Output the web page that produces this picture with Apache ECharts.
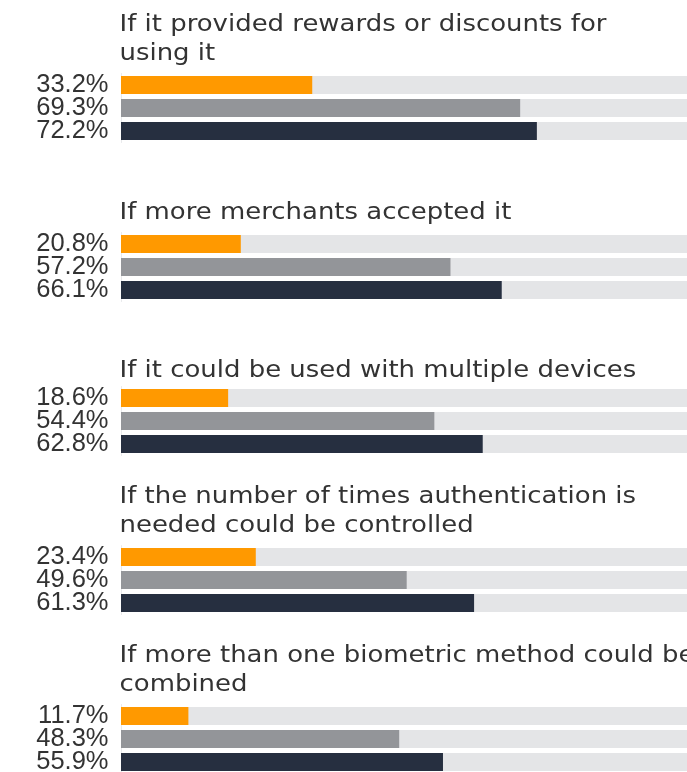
<!DOCTYPE html>
<html>
<head>
<meta charset="utf-8">
<script src="https://cdn.jsdelivr.net/npm/echarts@6/dist/echarts.min.js"></script>
<style>
html,body{margin:0;padding:0;background:#fff;}
#chart{width:687px;height:772px;}
</style>
</head>
<body>
<div id="chart"></div>
<script>
const categories = [
  "If it provided rewards or discounts for\nusing it",
  "If more merchants accepted it",
  "If it could be used with multiple devices",
  "If the number of times authentication is\nneeded could be controlled",
  "If more than one biometric method could be\ncombined"
];
const seriesOrange = [33.2, 20.8, 18.6, 23.4, 11.7];
const seriesGray = [69.3, 57.2, 54.4, 49.6, 48.3];
const seriesDark = [72.2, 66.1, 62.8, 61.3, 55.9];
const rowNames = ["A", "B", "C"];

// layout (not data)
const colors = ["#ff9900", "#939599", "#262f40"];
const gridTops = [73.5, 232.5, 386.5, 545.6, 704.5];
const titleTops = [11, 198.8, 357, 483, 641.8];

const chart = echarts.init(document.getElementById('chart'));
const grids = [], xAxes = [], yAxes = [], series = [], graphics = [];
categories.forEach((cat, i) => {
  grids.push({left: 121, top: gridTops[i], width: 576, height: 69, outerBoundsMode: 'none', containLabel: false});
  xAxes.push({type: 'value', gridIndex: i, min: 0, max: 100, show: false});
  yAxes.push({
    type: 'category', gridIndex: i, inverse: true, data: rowNames,
    axisLine: {show: true, lineStyle: {color: '#e9eaec', width: 1}},
    axisTick: {show: false}, axisLabel: {show: false}, splitLine: {show: false}
  });
  const vals = [seriesOrange[i], seriesGray[i], seriesDark[i]];
  series.push({
    type: 'bar', xAxisIndex: i, yAxisIndex: i,
    barWidth: 18,
    showBackground: true,
    backgroundStyle: {color: '#e4e5e7'},
    data: vals.map((v, k) => ({value: v, itemStyle: {color: colors[k]}})),
    label: {
      show: true, position: 'left', distance: 12.5,
      formatter: p => p.value.toFixed(1) + '%',
      fontFamily: 'Liberation Sans', fontSize: 25.5, color: '#333'
    },
    silent: true, animation: false
  });
  graphics.push({
    type: 'text', x: 119.5, y: titleTops[i], scaleX: 1.128, scaleY: 1, silent: true,
    style: {
      text: cat, x: 0, y: 0,
      fontFamily: 'DejaVu Sans', fontSize: 23, fontWeight: 'normal',
      fill: '#333', lineHeight: 29, verticalAlign: 'top', align: 'left'
    }
  });
});

chart.setOption({
  animation: false,
  grid: grids,
  xAxis: xAxes,
  yAxis: yAxes,
  series: series,
  graphic: graphics
});
</script>
</body>
</html>
